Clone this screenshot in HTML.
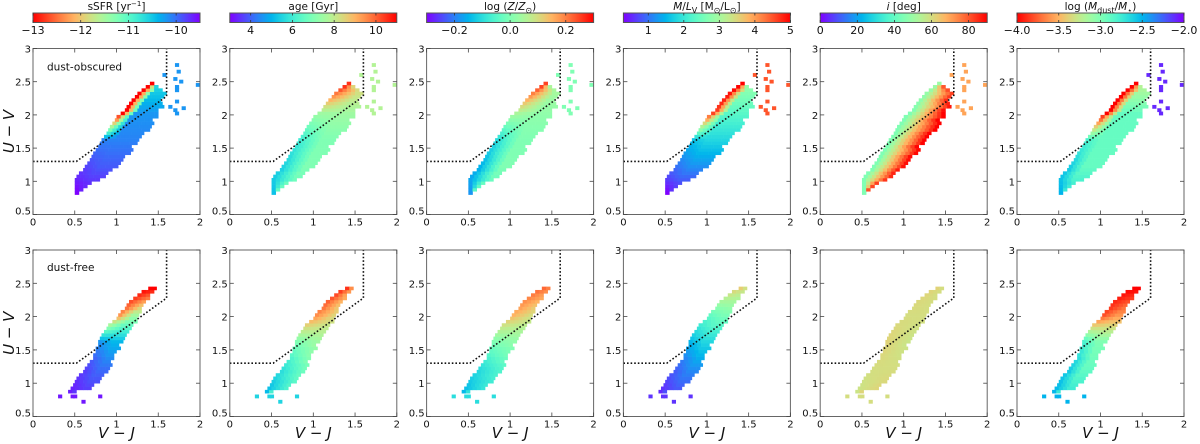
<!DOCTYPE html>
<html><head><meta charset="utf-8">
<style>
html,body{margin:0;padding:0;background:#fff;}
svg{display:block;font-family:"DejaVu Sans","Liberation Sans",sans-serif;}
</style></head>
<body>
<svg id="fig" width="1200" height="444" viewBox="0 0 1200 444" xmlns="http://www.w3.org/2000/svg"></svg>
<script>
// ---- data ----
const bandTop = [[0.8,0.5,0.55],[0.85,0.5,0.6],[0.9,0.5,0.65],[0.95,0.5,0.7],[1.0,0.5,0.8],[1.05,0.52,0.85],[1.1,0.55,0.9],[1.15,0.6,0.95],[1.2,0.62,1.0],[1.25,0.65,1.05],[1.3,0.68,1.1],[1.35,0.7,1.1],[1.4,0.72,1.15],[1.45,0.75,1.2],[1.5,0.78,1.2],[1.55,0.8,1.25],[1.6,0.82,1.28],[1.65,0.85,1.3],[1.7,0.88,1.35],[1.75,0.9,1.38],[1.8,0.92,1.4],[1.85,0.95,1.45],[1.9,0.98,1.45],[1.95,1.0,1.5],[2.0,1.05,1.5],[2.05,1.1,1.5],[2.1,1.12,1.55],[2.15,1.15,1.55],[2.2,1.18,1.55],[2.25,1.22,1.58],[2.3,1.25,1.58],[2.35,1.3,1.55],[2.4,1.35,1.5],[2.45,1.4,1.45]];
const bandBot = [[0.85,0.42,0.5],[0.9,0.45,0.7],[0.95,0.48,0.75],[1.0,0.5,0.78],[1.05,0.52,0.8],[1.1,0.55,0.85],[1.15,0.6,0.9],[1.2,0.62,0.92],[1.25,0.65,0.95],[1.3,0.68,0.95],[1.35,0.72,0.98],[1.4,0.72,0.98],[1.45,0.75,1.0],[1.5,0.75,1.05],[1.55,0.78,1.05],[1.6,0.78,1.1],[1.65,0.8,1.1],[1.7,0.82,1.12],[1.75,0.85,1.15],[1.8,0.88,1.18],[1.85,0.9,1.2],[1.9,0.95,1.25],[1.95,1.0,1.25],[2.0,1.02,1.28],[2.05,1.05,1.3],[2.1,1.1,1.3],[2.15,1.12,1.32],[2.2,1.15,1.35],[2.25,1.2,1.38],[2.3,1.25,1.4],[2.35,1.3,1.45],[2.4,1.38,1.48]];
const outTop = [[1.7,2.73],[1.72,2.63],[1.55,2.58],[1.68,2.52],[1.75,2.48],[1.7,2.4],[1.7,2.35],[1.95,2.43],[1.7,2.18],[1.78,2.08],[1.68,2.05],[1.7,2.0],[1.62,2.1]];
const outBot = [[0.3,0.78],[0.45,0.78],[0.48,0.78],[0.78,0.78],[0.58,0.7]];
const anchorY = [0.8,1.2,1.6,2.0,2.4];
const topLeft = [[-9.5,-9.8,-10.1,-13,-13],[5.2,5.5,6,7.5,10.5],[-0.18,-0.15,-0.1,0.05,0.25],[0.3,1.0,1.6,4.6,5],[45,45,45,45,50],[-2.5,-2.6,-2.8,-4,-4]];
const topRight = [[-9.6,-9.9,-10.1,-10.2,-10.6],[6.5,7,7,7.5,8.5],[-0.05,0,0,0.02,0.05],[0.5,1.2,1.8,2.3,2.8],[80,88,90,90,80],[-2.7,-2.9,-2.9,-2.9,-3.2]];
const botLeft = [[-9.6,-9.8,-10.2,-12.3,-13],[5,5.8,7,9.5,10.5],[-0.15,-0.1,0.0,0.15,0.22],[0.5,0.9,1.5,2.4,3.6],[58,60,62,60,62],[-2.5,-2.6,-2.8,-3.8,-4]];
const botRight = [[-9.7,-10.0,-10.4,-11.5,-13],[6,6.8,7.5,8.5,9.5],[-0.1,-0.05,0.02,0.1,0.2],[0.7,1.2,1.8,2.6,3.4],[62,60,58,60,60],[-2.7,-2.9,-3.0,-3.6,-4]];
const edgeWidth = [3,5,5,3,30,3];
const outValsTop = [-10.2,7.8,0.0,4.5,70,-2.1];
const outValsBot = [-9.6,5.5,-0.1,0.6,60,-2.5];
const cbLabels = ["sSFR [yr<tspan dy='-4' font-size='7'>−1</tspan><tspan dy='4'>]</tspan>","age [Gyr]","log (<tspan font-style='italic'>Z</tspan>/<tspan font-style='italic'>Z</tspan><tspan font-size='8' dy='3'>⊙</tspan><tspan dy='-3'>)</tspan>","<tspan font-style='italic'>M</tspan>/<tspan font-style='italic'>L</tspan><tspan font-size='8' dy='3'>V</tspan><tspan dy='-3'> [M</tspan><tspan font-size='8' dy='3'>⊙</tspan><tspan dy='-3'>/L</tspan><tspan font-size='8' dy='3'>⊙</tspan><tspan dy='-3'>]</tspan>","<tspan font-style='italic'>i</tspan> [deg]","log (<tspan font-style='italic'>M</tspan><tspan font-size='8' dy='3'>dust</tspan><tspan dy='-3'>/</tspan><tspan font-style='italic'>M</tspan><tspan font-size='8' dy='3'>⋆</tspan><tspan dy='-3'>)</tspan>"];
const cbMin = [-13,3,-0.3,0.3,0,-4];
const cbMax = [-9.5,11,0.3,5,90,-2];
const cbReverse = [true,false,false,false,false,true];
const cbTicks = [[-13,-12,-11,-10],[4,6,8,10],[-0.2,0,0.2],[1,2,3,4,5],[0,20,40,60,80],[-4,-3.5,-3,-2.5,-2]];
const cbTickLabels = [["−13","−12","−11","−10"],["4","6","8","10"],["−0.2","0.0","0.2"],["1","2","3","4","5"],["0","20","40","60","80"],["−4.0","−3.5","−3.0","−2.5","−2.0"]];
const xTicks = [0,0.5,1,1.5,2], xTickLabels=["0","0.5","1","1.5","2"];
const yTicks = [0.5,1,1.5,2,2.5,3], yTickLabels=["0.5","1","1.5","2","2.5","3"];
const uvjLine = [[0,1.3],[0.52,1.3],[1.6,2.28],[1.6,3]];

// ---- drawing ----
const NS="http://www.w3.org/2000/svg", svg=document.getElementById('fig');
function mk(tag,attrs,parent){const e=document.createElementNS(NS,tag);for(const k in attrs)e.setAttribute(k,attrs[k]);(parent||svg).appendChild(e);return e;}
function rainbow(t){t=Math.max(0,Math.min(1,t));const r=Math.min(1,Math.abs(2*t-0.5)),g=Math.sin(Math.PI*t),b=Math.cos(Math.PI*t/2);return `rgb(${Math.round(r*255)},${Math.round(g*255)},${Math.round(b*255)})`;}
function colorFor(p,v){let t=(v-cbMin[p])/(cbMax[p]-cbMin[p]);if(cbReverse[p])t=1-t;return rainbow(t);}
function interpAnchor(arr,y){if(y<=anchorY[0])return arr[0];for(let i=0;i<anchorY.length-1;i++){if(y<=anchorY[i+1]){const f=(y-anchorY[i])/(anchorY[i+1]-anchorY[i]);return arr[i]+(arr[i+1]-arr[i])*f;}}return arr[arr.length-1];}
const PX0=33,PSTEP=196.8,PW=167;
const rows=[{top:48.5,bot:214.5},{top:250,bot:416.5}];
for(let p=0;p<6;p++){
  const x0=PX0+p*PSTEP;
  const xs=v=>x0+v/2*PW;
  const cb=mk('g',{},svg);
  
  
  const gid='grad'+p;
  const defs=mk('defs',{},cb);const lg=mk('linearGradient',{id:gid,x1:0,x2:1,y1:0,y2:0},defs);
  for(let s=0;s<=20;s++){const t=s/20;mk('stop',{offset:t,'stop-color':rainbow(cbReverse[p]?1-t:t)},lg);}
  mk('rect',{x:x0,y:13,width:PW,height:9.5,fill:`url(#${gid})`,stroke:'#555','stroke-width':1},cb);
  const cbx=v=>x0+(v-cbMin[p])/(cbMax[p]-cbMin[p])*PW;
  cbTicks[p].forEach((v,i)=>{const x=cbx(v);mk('line',{x1:x,x2:x,y1:13,y2:15.5,stroke:'#333','stroke-width':0.8},cb);mk('line',{x1:x,x2:x,y1:20,y2:22.5,stroke:'#333','stroke-width':0.8},cb);
    const t=mk('text',{x:x,y:34,'font-size':11,'text-anchor':'middle',fill:'#111'},cb);t.textContent=cbTickLabels[p][i];});
  const lt=mk('text',{x:x0+PW/2,y:10,'font-size':10.5,'text-anchor':'middle',fill:'#111'},cb);lt.innerHTML=cbLabels[p];
  for(let r=0;r<2;r++){
    const R=rows[r];const ys=v=>R.bot-(v-0.5)/2.5*(R.bot-R.top);
    const g=mk('g',{},svg);
    
    
    const band=r==0?bandTop:bandBot, L=(r==0?topLeft:botLeft)[p], Rt=(r==0?topRight:botRight)[p];
    const cw=0.05/2*PW, ch=0.05/2.5*(R.bot-R.top);
    band.forEach(row=>{const y=row[0];const vl=interpAnchor(L,y),vr=interpAnchor(Rt,y);
      const n=Math.max(1,Math.round((row[2]-row[1])/0.05));
      const ew=Math.min(edgeWidth[p],n-1);
      for(let k=0;k<n;k++){const xv=row[1]+k*0.05;const f=ew>0?Math.min(1,k/ew):0;const v=vl+(vr-vl)*f;
        const c=mk('rect',{x:xs(xv).toFixed(2),y:(ys(y)-ch).toFixed(2),width:(cw+0.3).toFixed(2),height:(ch+0.3).toFixed(2),fill:colorFor(p,v)},g);
        
        }
    });
    (r==0?outTop:outBot).forEach(o=>{const c=mk('rect',{x:xs(o[0]).toFixed(2),y:(ys(o[1])-ch).toFixed(2),width:cw,height:ch+0.5,fill:colorFor(p,(r==0?outValsTop:outValsBot)[p])},g);
      
      });
    const d=uvjLine.map((q,i)=>(i?'L':'M')+xs(q[0]).toFixed(1)+' '+ys(q[1]).toFixed(1)).join(' ');
    const ln=mk('path',{d:d,fill:'none',stroke:'#111','stroke-width':1.6,'stroke-dasharray':'1.6 2'},g);
    
    
    mk('rect',{x:x0,y:R.top,width:PW,height:R.bot-R.top,fill:'none',stroke:'#666','stroke-width':1},g);
    xTicks.forEach((v,i)=>{const x=xs(v);mk('line',{x1:x,x2:x,y1:R.bot,y2:R.bot-4,stroke:'#444','stroke-width':0.8},g);mk('line',{x1:x,x2:x,y1:R.top,y2:R.top+4,stroke:'#444','stroke-width':0.8},g);
      const t=mk('text',{x:x,y:R.bot+11,'font-size':10,'text-anchor':'middle',fill:'#111'},g);t.textContent=xTickLabels[i];});
    yTicks.forEach((v,i)=>{const y=ys(v);mk('line',{x1:x0,x2:x0+4,y1:y,y2:y,stroke:'#444','stroke-width':0.8},g);mk('line',{x1:x0+PW,x2:x0+PW-4,y1:y,y2:y,stroke:'#444','stroke-width':0.8},g);
      const t=mk('text',{x:x0-2,y:y+(i==0?0:4),'font-size':10,'text-anchor':'end',fill:'#111'},g);t.textContent=yTickLabels[i];});
    if(p==0){const t=mk('text',{x:x0+14,y:R.top+(r==0?22:21),'font-size':10.5,fill:'#111'},g);t.textContent=r==0?'dust-obscured':'dust-free';
      const yl=mk('text',{x:14,y:(R.top+R.bot)/2,'font-size':15,'text-anchor':'middle',fill:'#111',transform:`rotate(-90 14 ${(R.top+R.bot)/2})`},g);yl.innerHTML="<tspan font-style='italic'>U</tspan> − <tspan font-style='italic'>V</tspan>";}
    if(r==1){const xl=mk('text',{x:x0+PW/2,y:438,'font-size':15,'text-anchor':'middle',fill:'#111'},g);xl.innerHTML="<tspan font-style='italic'>V</tspan> − <tspan font-style='italic'>J</tspan>";}
  }
}
</script>
</body></html>
